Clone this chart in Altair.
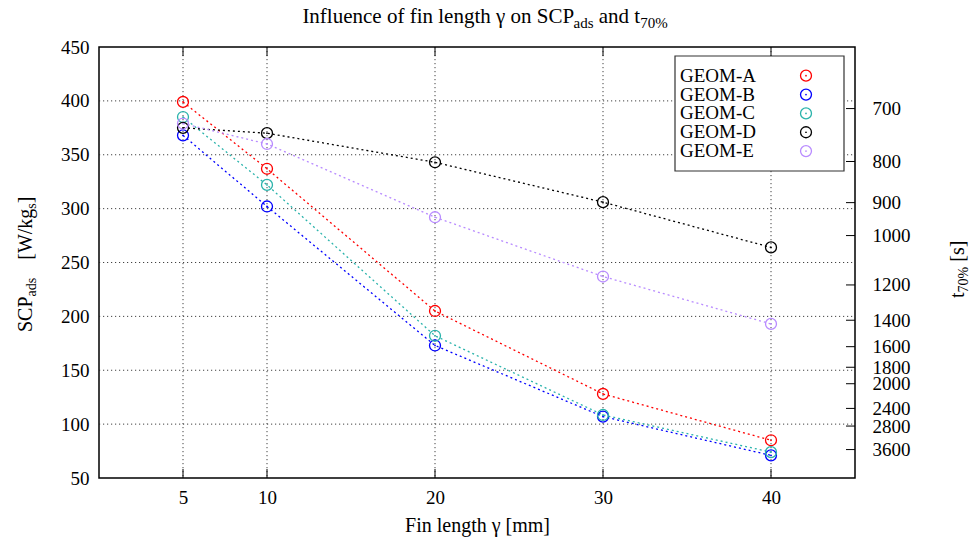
import altair as alt
import pandas as pd

# ---------------- data ----------------
fin_length = [5, 10, 20, 30, 40]
geoms = ["GEOM-A", "GEOM-B", "GEOM-C", "GEOM-D", "GEOM-E"]
scp_a = [399, 337, 205, 128, 85]
scp_b = [368, 302, 173, 107, 71]
scp_c = [385, 322, 182, 108.5, 74]
scp_d = [375, 370, 343, 306, 264]
scp_e = [379, 360, 292, 237, 193]
colors = ["#ff0000", "#0000ff", "#2ab3ab", "#000000", "#b98cff"]

x_ticks = [5, 10, 20, 30, 40]
y_ticks = [50, 100, 150, 200, 250, 300, 350, 400, 450]
t70_ticks = [700, 800, 900, 1000, 1200, 1400, 1600, 1800, 2000, 2400, 2800, 3600]
K = 275000  # t70% = K / SCP_ads

series = {"GEOM-A": scp_a, "GEOM-B": scp_b, "GEOM-C": scp_c, "GEOM-D": scp_d, "GEOM-E": scp_e}
rows = []
for g in geoms:
    for x, v in zip(fin_length, series[g]):
        rows.append({"geom": g, "x": x, "scp": v})
df = pd.DataFrame(rows)

# ---------------- layout ----------------
W, H = 756, 431
FONT = "Liberation Serif"
XDOM = [0, 45]
YDOM = [50, 450]

xs = alt.Scale(domain=XDOM, nice=False, zero=False)
ys = alt.Scale(domain=YDOM, nice=False, zero=False)
col = alt.Color("geom:N", scale=alt.Scale(domain=geoms, range=colors), legend=None)

grid_style = dict(color="#222", strokeWidth=1, strokeDash=[1.2, 2.8], opacity=0.85)

gy = alt.Chart(pd.DataFrame({"v": [v for v in y_ticks if v not in YDOM]})).mark_rule(**grid_style).encode(
    y=alt.Y("v:Q", scale=ys, axis=None), x=alt.value(0), x2=alt.value(W))
gx = alt.Chart(pd.DataFrame({"v": x_ticks})).mark_rule(**grid_style).encode(
    x=alt.X("v:Q", scale=xs, axis=None), y=alt.value(0), y2=alt.value(H))

tick_b = alt.Chart(pd.DataFrame({"v": x_ticks})).mark_rule(color="black", strokeWidth=1).encode(
    x=alt.X("v:Q", scale=xs, axis=None), y=alt.value(H - 9), y2=alt.value(H))
tick_t = alt.Chart(pd.DataFrame({"v": x_ticks})).mark_rule(color="black", strokeWidth=1).encode(
    x=alt.X("v:Q", scale=xs, axis=None), y=alt.value(0), y2=alt.value(9))

lines = alt.Chart(df).mark_line(strokeDash=[2, 3], strokeWidth=1.3).encode(
    x=alt.X("x:Q", scale=xs, axis=alt.Axis(
        orient="bottom", values=x_ticks, grid=False, ticks=False, tickSize=0, domain=False,
        labelFont=FONT, labelFontSize=19, labelColor="black", labelPadding=10,
        title="Fin length γ [mm]", titleFont=FONT, titleFontSize=20, titleFontWeight="normal",
        titleColor="black", titlePadding=8, labelOverlap=False)),
    y=alt.Y("scp:Q", scale=ys, axis=alt.Axis(
        orient="left", values=y_ticks, grid=False, ticks=False, tickSize=0, domain=False,
        labelFont=FONT, labelFontSize=19, labelColor="black", labelPadding=10, title=None,
        labelOverlap=False)),
    color=col, detail="geom:N")

pts = alt.Chart(df).mark_point(shape="circle", filled=False, size=120, strokeWidth=1.3, opacity=1).encode(
    x=alt.X("x:Q", scale=xs, axis=None), y=alt.Y("scp:Q", scale=ys, axis=None), color=col)
dots = alt.Chart(df).mark_circle(size=3, opacity=1).encode(
    x=alt.X("x:Q", scale=xs, axis=None), y=alt.Y("scp:Q", scale=ys, axis=None), color=col)

# right axis (t70%) on the same linear scale, ticks at SCP = K / t
right_pos = [K / t for t in t70_ticks]
right = alt.Chart(pd.DataFrame({"pos": right_pos})).mark_rule(color="black", strokeWidth=1).encode(
    y=alt.Y("pos:Q", scale=ys, axis=alt.Axis(
        orient="right", values=right_pos, labelExpr=f"format(round({K}/datum.value), 'd')",
        grid=False, ticks=False, tickSize=0, domain=False, labelFont=FONT, labelFontSize=19,
        labelColor="black", labelPadding=17, title=None, labelOverlap=False, labelBound=False)),
    x=alt.value(W - 9), x2=alt.value(W))

layers = [gy, gx, tick_b, tick_t, lines, pts, dots, right]

# legend (drawn as annotation)
one = pd.DataFrame({"a": [0]})
layers.append(alt.Chart(one).mark_rect(fill="white", stroke="#333", strokeWidth=1.2).encode(
    x=alt.value(576), x2=alt.value(745), y=alt.value(9), y2=alt.value(124)))
LEG_TOP, LEG_STEP = 28.7, 18.85
for i, (g, c) in enumerate(zip(geoms, colors)):
    yy = LEG_TOP + i * LEG_STEP
    d1 = pd.DataFrame({"geom": [g]})
    layers.append(alt.Chart(d1).mark_text(align="left", baseline="middle", font=FONT, fontSize=19,
                                          color="black").encode(x=alt.value(581), y=alt.value(yy), text="geom:N"))
    layers.append(alt.Chart(d1).mark_point(shape="circle", filled=False, size=120, strokeWidth=1.3,
                                           opacity=1, color=c).encode(x=alt.value(707), y=alt.value(yy)))
    layers.append(alt.Chart(d1).mark_circle(size=3, opacity=1, color=c).encode(
        x=alt.value(707), y=alt.value(yy)))

# rich text helpers (titles with subscripts)
EM = {" ": .25, "I": .333, "n": .5, "f": .333, "l": .278, "u": .5, "e": .444, "c": .444, "o": .5,
      "g": .5, "t": .278, "h": .5, "S": .556, "C": .667, "P": .556, "a": .444, "d": .5, "s": .389,
      "7": .5, "0": .5, "%": .833, "γ": .41, "[": .333, "]": .333, "W": .944, "/": .278, "k": .5,
      "m": .778, "i": .278}


def tw(s, size):
    return sum(EM.get(c, .5) for c in s) * size


def piece(txt, x, y, size, angle=0):
    kw = dict(align="left", baseline="alphabetic", font=FONT, fontSize=size, color="black")
    if angle:
        kw["angle"] = angle
    return alt.Chart(pd.DataFrame({"t": [txt]})).mark_text(**kw).encode(
        x=alt.value(x), y=alt.value(y), text="t:N")


# chart title: (text, size, baseline shift, gap before)
tparts = [("Influence of fin length γ on SCP", 21, 0, 0), ("ads", 15, 5, 0),
          ("and t", 21, 0, 5.25), ("70%", 15, 5, 0)]
total = sum(tw(s, f) + gap for s, f, _, gap in tparts)
cx = 485 - 99 - total / 2
for s, f, dy, gap in tparts:
    cx += gap
    layers.append(piece(s, cx, -24 + dy, f))
    cx += tw(s, f)

# left axis title (rotated): (text, size, baseline shift, gap before)
yparts = [("SCP", 20, 0, 0), ("ads", 14, 4, 0), ("[W/kg", 20, 0, 18), ("s", 14, 4, 0), ("]", 20, 0, 0)]
cy = 332 - 47
for s, f, dx, gap in yparts:
    cy -= gap
    layers.append(piece(s, -67 + dx, cy, f, angle=270))
    cy -= tw(s, f)

# right axis title (rotated)
rparts = [("t", 20, 0, 0), ("70%", 14, 4, 0), ("[s]", 20, 0, 5)]
cy = 298 - 47
for s, f, dx, gap in rparts:
    cy -= gap
    layers.append(piece(s, 865 + dx, cy, f, angle=270))
    cy -= tw(s, f)

chart = alt.layer(*layers).resolve_axis(x="independent", y="independent").properties(
    width=W, height=H,
    padding={"left": 99, "top": 47, "right": 970 - 99 - W, "bottom": 542 - 47 - H},
    autosize=alt.AutoSizeParams(type="none"),
    background="white",
).configure_view(stroke="black", strokeWidth=1.5)

chart.save("out.html", embed_options={"renderer": "svg", "actions": False})
